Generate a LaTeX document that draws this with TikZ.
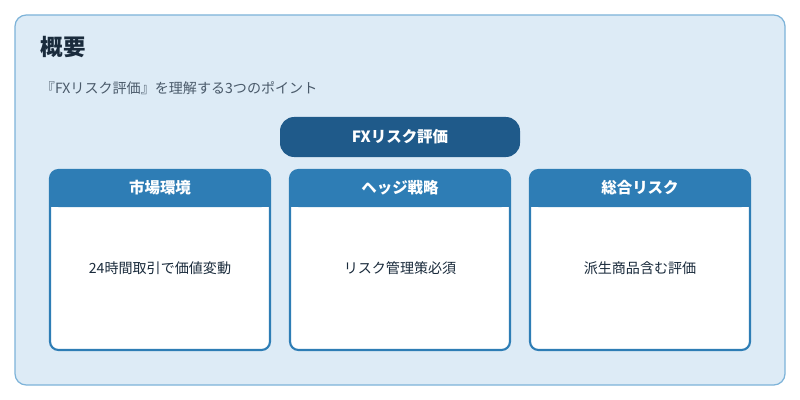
\documentclass[tikz,border=0pt]{standalone}
\usepackage{fontspec}
\setmainfont{Noto Sans CJK JP}
\usetikzlibrary{positioning}
\definecolor{panelbg}{HTML}{DDEBF6}
\definecolor{panelline}{HTML}{7DB3D9}
\definecolor{pillblue}{HTML}{1F5A8A}
\definecolor{headblue}{HTML}{2E7DB5}
\definecolor{titletext}{HTML}{1A2B3C}
\definecolor{subtext}{HTML}{4A5A6A}
\tikzset{
	cardhead/.style={fill=headblue,text=white,font=\bfseries\fontsize{11}{13}\selectfont},
	cardbody/.style={font=\fontsize{10}{12}\selectfont,text=titletext},
}
\begin{document}
\begin{tikzpicture}[x=0.025cm,y=-0.025cm]
	\useasboundingbox (0,0) rectangle (800,400);
	\fill[white] (0,0) rectangle (800,400);
	\draw[panelline,fill=panelbg,line width=0.9pt,rounded corners=8pt] (15,15) rectangle (785,385);
	\node[anchor=west,font=\bfseries\fontsize{16}{18}\selectfont,text=titletext] (title) at (36,47) {概要};
	\node[anchor=west,font=\fontsize{10}{12}\selectfont,text=subtext] (sub) at (36,88) {『FXリスク評価』を理解する3つのポイント};
	\node[fill=pillblue,text=white,rounded corners=10pt,minimum width=240*0.025cm,minimum height=40*0.025cm,font=\bfseries\fontsize{11}{13}\selectfont] (pill) at (400,137) {FXリスク評価};
	% three cards
	\foreach \x/\head/\body [count=\i] in {50/市場環境/24時間取引で価値変動,290/ヘッジ戦略/リスク管理策必須,530/総合リスク/派生商品含む評価}{
		\fill[white,rounded corners=6pt] (\x,170) rectangle ++(220,180);
		\fill[headblue,rounded corners=6pt] (\x,170) rectangle ++(220,37);
		\fill[headblue] (\x,195) rectangle ++(220,12);
		\draw[headblue,line width=1.5pt,rounded corners=6pt] (\x,170) rectangle ++(220,180);
		\node[cardhead] (head\i) at (\x+110,188) {\head};
		\node[cardbody] (body\i) at (\x+110,268) {\body};
	}
\end{tikzpicture}
\end{document}
